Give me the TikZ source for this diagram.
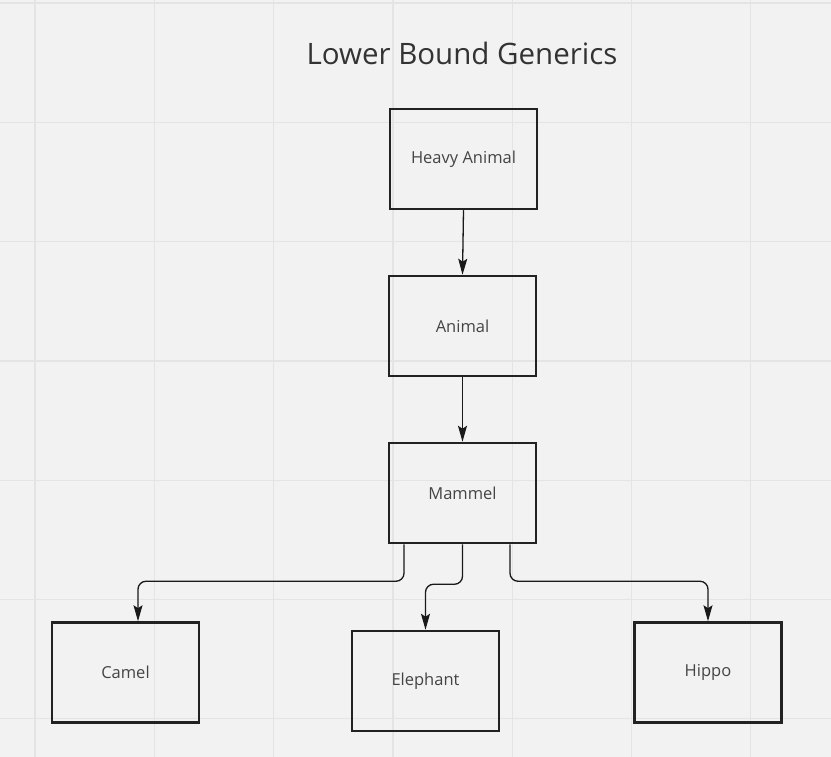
\documentclass[tikz,border=0pt]{standalone}
\usepackage{fontspec}
\setmainfont{Open Sans}
\usetikzlibrary{arrows.meta}
\definecolor{bg}{HTML}{F2F2F2}
\definecolor{gridc}{HTML}{E4E4E4}
\definecolor{boxc}{HTML}{222222}
\definecolor{txtc}{HTML}{444444}
\definecolor{titlec}{HTML}{333333}
\tikzset{
  box/.style={draw=boxc, line width=2.5pt, minimum width=147pt, minimum height=100pt, inner sep=0pt, font=\fontsize{16.5}{20}\selectfont, text=txtc},
  conn/.style={draw=black!90, line width=1.3pt, rounded corners=8pt, -{Stealth[length=16pt,width=9pt,inset=3pt]}},
  gridline/.style={draw=gridc, line width=1.3pt}
}
\begin{document}
\begin{tikzpicture}[x=1pt,y=-1pt]
\fill[bg] (0,0) rectangle (831,757);
\useasboundingbox (0,0) rectangle (831,757);
\foreach \k in {0,...,6}{
  \draw[gridline] ({35+119.3*\k},0) -- ({35+119.3*\k},757);
  \draw[gridline] (0,{3+119.3*\k}) -- (831,{3+119.3*\k});
}
\node[font=\fontsize{29.5}{34}\selectfont, text=titlec] (title) at (462,53) {Lower Bound Generics};
\node[box] (h) at (463.5,159) {Heavy Animal};
\node[box] (a) at (462.5,326) {Animal};
\node[box] (m) at (462.5,493) {Mammel};
\node[box] (c) at (125.5,672.5) {Camel};
\node[box] (e) at (425.5,681) {Elephant};
\node[box] (p) at (708,672.5) {Hippo};
\draw[conn] (h.south) -- (a.north);
\draw[conn] (a.south) -- (m.north);
\draw[conn] ([xshift=-58.5pt]m.south) -- ++(0,37) -| ([xshift=12.5pt]c.north);
\draw[conn] (m.south) -- ++(0,40) -| (e.north);
\draw[conn] ([xshift=47.5pt]m.south) -- ++(0,37) -| (p.north);
\end{tikzpicture}
\end{document}
